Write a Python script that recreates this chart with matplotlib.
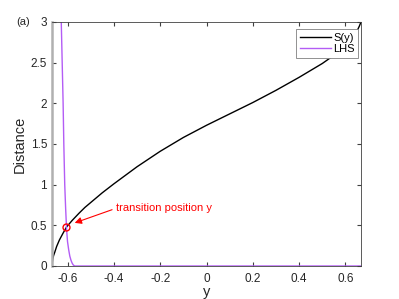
import matplotlib
matplotlib.use("Agg")
import matplotlib.pyplot as plt

plt.rcParams['font.family'] = ['Liberation Sans', 'DejaVu Sans']

# S(y) curve
s_y = [-0.667, -0.666, -0.664, -0.66, -0.655, -0.647, -0.635, -0.62, -0.604, -0.58, -0.55,
       -0.525, -0.5, -0.45, -0.4, -0.3, -0.2, -0.1, 0.0, 0.1, 0.2, 0.3, 0.4, 0.5,
       0.55, 0.6, 0.63, 0.65, 0.66, 0.667]
s_val = [0.0, 0.04, 0.08, 0.13, 0.17, 0.24, 0.32, 0.40, 0.48, 0.56, 0.65,
         0.72, 0.78, 0.90, 1.01, 1.22, 1.41, 1.58, 1.73, 1.87, 2.01, 2.16, 2.32, 2.49,
         2.59, 2.72, 2.81, 2.89, 2.95, 3.0]

# LHS curve
lhs_y = [-0.627, -0.623, -0.619, -0.616, -0.612, -0.608, -0.604, -0.6, -0.595,
         -0.59, -0.585, -0.58, -0.575, -0.569, -0.5, 0.0, 0.667]
lhs_val = [3.0, 2.5, 2.0, 1.5, 1.0, 0.7, 0.45, 0.3, 0.2,
           0.12, 0.07, 0.035, 0.012, 0.0, 0.0, 0.0, 0.0]

# transition point
tx, ty = -0.606, 0.48

fig = plt.figure(figsize=(3.99, 2.99), dpi=100)
ax = fig.add_axes([52/399, 1 - 266/299, 309/399, 244/299])

ax.plot(s_y, s_val, color='black', lw=1.0, label='S(y)')
ax.plot(lhs_y, lhs_val, color='#b35cf5', lw=1.0, label='LHS')
ax.plot([tx], [ty], 'o', mfc='none', mec='red', ms=5, mew=1.0)
ax.annotate('transition position y', xy=(-0.569, 0.53), xytext=(-0.39, 0.71),
            color='red', fontsize=8, ha='left', va='center',
            arrowprops=dict(arrowstyle='-|>', color='red', lw=0.8, mutation_scale=10,
                            relpos=(0, 0.5), shrinkA=1, shrinkB=0))

ax.set_xlim(-0.667, 0.667)
ax.set_ylim(0, 3)
ax.set_xticks([-0.6, -0.4, -0.2, 0, 0.2, 0.4, 0.6])
ax.set_xticklabels(['-0.6', '-0.4', '-0.2', '0', '0.2', '0.4', '0.6'])
ax.set_yticks([0, 0.5, 1, 1.5, 2, 2.5, 3])
ax.set_yticklabels(['0', '0.5', '1', '1.5', '2', '2.5', '3'])
ax.tick_params(direction='in', top=True, right=True, labelsize=8.5, length=3,
               color='#404040', labelcolor='#262626')
ax.tick_params(axis='x', pad=5)
ax.tick_params(axis='y', pad=3.5)
for sp in ax.spines.values():
    sp.set_color('#404040')
    sp.set_linewidth(0.6)
ax.spines['left'].set_color('#b0b0b0')
ax.spines['left'].set_linewidth(1.8)

ax.set_xlabel('y', fontsize=10.5, labelpad=0, color='#262626')
ax.set_ylabel('Distance', fontsize=10.5, color='#262626', labelpad=3)

leg = ax.legend(loc='upper right', bbox_to_anchor=(0.99, 0.97), fontsize=8,
                handlelength=2.8, handletextpad=0.2, borderpad=0.3,
                labelspacing=0.15, fancybox=False, framealpha=1, borderaxespad=0)
leg.get_frame().set_edgecolor('#808080')
leg.get_frame().set_linewidth(0.6)

fig.text(16/399, 1 - 22/299, '(a)', fontsize=8, color='#262626', va='center')

fig.savefig('out.png', dpi=100)
